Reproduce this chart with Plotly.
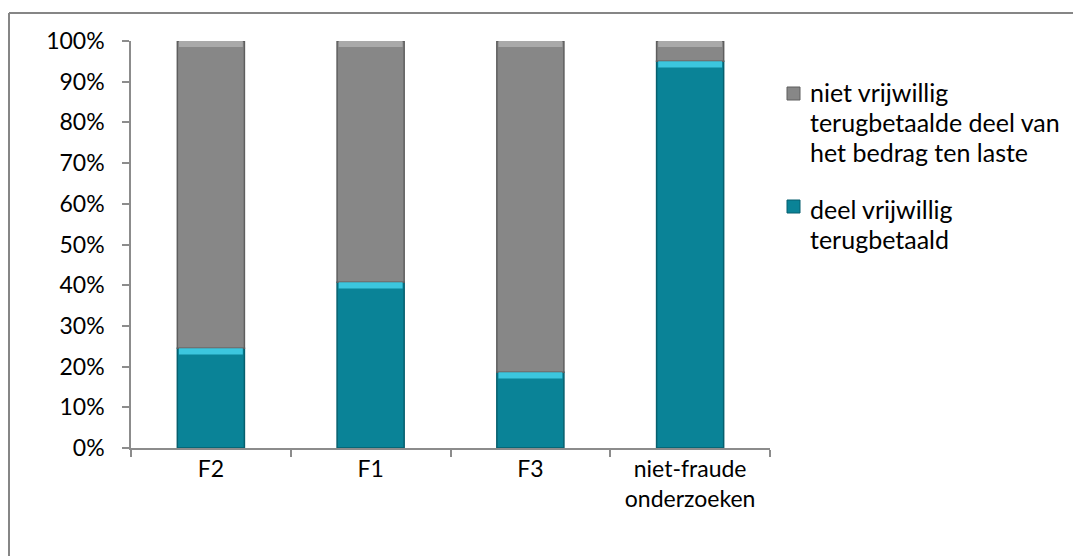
import plotly.graph_objects as go

# Stacked 100% bars: voluntary vs. non-voluntary repayment share
categories = ["F2", "F1", "F3", "niet-fraude<br>onderzoeken"]
deel_vrijwillig = [24.5, 40.7, 18.6, 95.0]
niet_vrijwillig = [75.5, 59.3, 81.4, 5.0]

name_niet = "niet vrijwillig terugbetaalde deel van het bedrag ten laste"
name_deel = "deel vrijwillig terugbetaald"

TEAL = "#0a8397"
TEAL_EDGE = "#065f6e"
TEAL_HI = "#3cc6de"
GREY = "#878787"
GREY_EDGE = "#5e5e5e"
GREY_HI = "#a9a9a9"
AXIS = "#8c8c8c"
FONT = "Lato"
BAR_W = 0.42
HI = 1.5  # height of the bevel highlight strip, in axis units

W, H = 1073, 556
L, R, T, B = 131, 303, 41, 108
PW, PH = W - L - R, H - T - B


def px_x(x):
    return (x - L) / PW


def px_y(y):
    return (H - B - y) / PH


tops_deel = deel_vrijwillig
tops_niet = [a + b for a, b in zip(deel_vrijwillig, niet_vrijwillig)]

fig = go.Figure()
fig.add_bar(
    x=categories, y=deel_vrijwillig, base=[0] * len(categories), name=name_deel,
    width=BAR_W, marker=dict(color=TEAL, line=dict(color=TEAL_EDGE, width=1.5)),
    showlegend=False, hoverinfo="y",
)
fig.add_bar(
    x=categories, y=niet_vrijwillig, base=deel_vrijwillig, name=name_niet,
    width=BAR_W, marker=dict(color=GREY, line=dict(color=GREY_EDGE, width=1.5)),
    showlegend=False, hoverinfo="y",
)
# bevel highlights at the top of each segment
fig.add_bar(
    x=categories, y=[HI] * len(categories), base=[t - HI for t in tops_deel],
    width=BAR_W - 0.02, marker=dict(color=TEAL_HI, line=dict(width=0)),
    showlegend=False, hoverinfo="skip",
)
fig.add_bar(
    x=categories, y=[HI] * len(categories), base=[t - HI for t in tops_niet],
    width=BAR_W - 0.02, marker=dict(color=GREY_HI, line=dict(width=0)),
    showlegend=False, hoverinfo="skip",
)

fig.update_layout(
    width=W, height=H,
    margin=dict(l=L, r=R, t=T, b=B, pad=0),
    barmode="overlay",
    paper_bgcolor="white", plot_bgcolor="white",
    font=dict(family=FONT, size=23, color="#000000"),
    showlegend=False,
)
fig.update_yaxes(
    range=[0, 100], tick0=0, dtick=10, ticksuffix="%",
    showgrid=False, zeroline=False,
    showline=True, linecolor=AXIS, linewidth=1.5,
    ticks="outside", ticklen=7, tickcolor=AXIS, tickwidth=1.5,
    ticklabelstandoff=13,
    tickfont=dict(family=FONT, size=23, color="#000000"),
)
fig.update_xaxes(
    range=[-0.5, 3.5], tickson="boundaries",
    showgrid=False, zeroline=False,
    showline=True, linecolor=AXIS, linewidth=1.5,
    ticks="outside", ticklen=7, tickcolor=AXIS, tickwidth=1.5,
    ticklabelstandoff=0,
    tickfont=dict(family=FONT, size=23, color="#000000"),
)

shapes = [
    # chart frame (top and left edges)
    dict(type="line", xref="paper", yref="paper",
         x0=px_x(9), x1=px_x(W + 5), y0=px_y(13), y1=px_y(13),
         line=dict(color="#868686", width=2)),
    dict(type="line", xref="paper", yref="paper",
         x0=px_x(9), x1=px_x(9), y0=px_y(13), y1=px_y(H + 5),
         line=dict(color="#868686", width=2)),
    # legend keys
    dict(type="rect", xref="paper", yref="paper",
         x0=px_x(787), x1=px_x(800), y0=px_y(87), y1=px_y(100),
         fillcolor=GREY, line=dict(color=GREY_EDGE, width=1)),
    dict(type="rect", xref="paper", yref="paper",
         x0=px_x(787), x1=px_x(800), y0=px_y(200), y1=px_y(213),
         fillcolor=TEAL, line=dict(color=TEAL_EDGE, width=1)),
]
fig.update_layout(shapes=shapes)

legend_lines = [
    ("niet vrijwillig", 92),
    ("terugbetaalde deel van", 122),
    ("het bedrag ten laste", 152),
    ("deel vrijwillig", 209),
    ("terugbetaald", 239),
]
for text, yc in legend_lines:
    fig.add_annotation(
        xref="paper", yref="paper", x=px_x(808), y=px_y(yc),
        text=text, showarrow=False, xanchor="left", yanchor="middle",
        font=dict(family=FONT, size=25, color="#000000"),
    )

fig.write_html("out.html")
